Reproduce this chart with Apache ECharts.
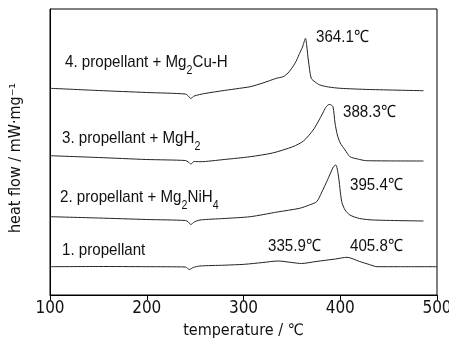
<!DOCTYPE html>
<html>
<head>
<meta charset="utf-8">
<script src="https://cdn.jsdelivr.net/npm/echarts@6/dist/echarts.min.js"></script>
<style>
  html, body { margin: 0; padding: 0; background: #fff; }
  #chart { width: 449px; height: 340px; }
</style>
</head>
<body>
<div id="chart"></div>
<script>
// temperature (°C) and heat flow (arbitrary offset units)
const temp1 = [100, 150, 200, 240, 244, 248, 255, 280, 301, 320, 336, 350, 360, 375, 395, 407, 420, 430, 438, 460, 500]
const flow1 = [28.3, 28.5, 28.3, 28, 25.5, 27.5, 29, 29.8, 30.7, 32.5, 34, 32.5, 31.5, 33.5, 36, 37.7, 33.5, 30.5, 28.3, 28.3, 28.3]

const temp2 = [100, 150, 200, 240, 243, 245.5, 249, 255, 280, 307, 335, 358, 368, 375.6, 381, 386, 390, 393, 395.4, 398, 401.5, 405, 410, 420, 434, 486]
const flow2 = [78.3, 77, 75.5, 74.5, 73, 70.5, 73, 75, 76.5, 78.3, 83, 86.7, 90, 93.3, 103, 113.3, 122, 128.3, 130, 120, 93.3, 85, 80, 76.5, 75, 74]

const temp3 = [100, 150, 200, 240, 243, 245.5, 249, 255, 280, 307, 330, 351, 362, 372, 377, 382, 385, 388.3, 390, 392.5, 394.6, 397, 400, 405, 410, 418, 427, 486]
const flow3 = [139.3, 137.5, 135.5, 134.5, 133, 131, 133.5, 133.3, 135.5, 138.3, 142, 148.3, 154, 165, 173, 182, 187.5, 190.5, 190.3, 188.3, 172, 160, 152, 145, 138.3, 136, 134.3, 134]

const temp4 = [100, 150, 200, 240, 243, 245.5, 249, 260, 280, 296, 307, 320, 334, 341, 346, 351, 355, 358, 361, 364.1, 365.5, 367, 370, 374, 379, 388, 400, 430, 486]
const flow4 = [206.7, 204.5, 202.5, 201, 199, 196.5, 199, 201.5, 204.5, 206.7, 208.3, 212, 216.7, 218.3, 222, 228.3, 235, 241.7, 248, 256.7, 248, 235, 216.7, 213, 210, 208, 206.7, 205.5, 204.3]

const xTicks = [100, 200, 300, 400, 500]

const curves = [
  { name: '1', temp: temp1, flow: flow1 },
  { name: '2', temp: temp2, flow: flow2 },
  { name: '3', temp: temp3, flow: flow3 },
  { name: '4', temp: temp4, flow: flow4 }
]

const axisFont = `'DejaVu Sans Condensed', 'Liberation Sans', sans-serif`
const noteFont = `'Liberation Sans', Arial, sans-serif`
const labelRich = {
  n: { fontSize: 17, lineHeight: 17, verticalAlign: 'top', color: '#111', fontFamily: noteFont },
  s: { fontSize: 12, lineHeight: 23, verticalAlign: 'bottom', color: '#111', fontFamily: noteFont }
}

// annotation text, squeezed horizontally to look like the narrow face of the original
function textEl (x, y, text) {
  return {
    type: 'text',
    x: x,
    y: y,
    scaleX: 0.89,
    style: { text: text, rich: labelRich, font: `17px ${noteFont}`, fill: '#111' }
  }
}

const chart = echarts.init(document.getElementById('chart'))
chart.setOption({
  animation: false,
  grid: {
    left: 50, right: 12, top: 9, bottom: 45,
    outerBoundsMode: 'none',
    show: true, borderColor: '#000', borderWidth: 1
  },
  xAxis: {
    type: 'value',
    min: 100,
    max: 500,
    interval: 100,
    name: 'temperature / ℃',
    nameLocation: 'middle',
    nameGap: 28,
    nameTextStyle: { color: '#111', fontSize: 16, fontFamily: axisFont },
    axisLine: { lineStyle: { color: '#000', width: 1 } },
    axisTick: { inside: false, length: 5, lineStyle: { color: '#000' } },
    axisLabel: { color: '#111', fontSize: 17, fontFamily: axisFont, margin: 5,
      formatter: v => xTicks.includes(v) ? String(v) : '' },
    splitLine: { show: false }
  },
  yAxis: {
    type: 'value',
    min: 0,
    max: 286,
    name: 'heat flow / mW·mg⁻¹',
    nameLocation: 'middle',
    nameGap: 26,
    nameTextStyle: { color: '#111', fontSize: 16, fontFamily: axisFont, padding: [0, 12, 0, 0] },
    axisLine: { show: true, lineStyle: { color: '#000' } },
    axisTick: { show: false },
    axisLabel: { show: false },
    splitLine: { show: false }
  },
  series: curves.map(c => ({
    name: c.name,
    type: 'line',
    smooth: 0.25,
    showSymbol: false,
    lineStyle: { color: '#222', width: 1 },
    data: c.temp.map((t, i) => [t, c.flow[i]])
  })),
  graphic: [
    textEl(65, 54, '{n|4. propellant + Mg}{s|2}{n|Cu-H}'),
    textEl(62, 130, '{n|3. propellant + MgH}{s|2}'),
    textEl(60, 189, '{n|2. propellant + Mg}{s|2}{n|NiH}{s|4}'),
    textEl(62, 242, '{n|1. propellant}'),
    textEl(316, 29, '{n|364.1℃}'),
    textEl(343, 104, '{n|388.3℃}'),
    textEl(350, 177, '{n|395.4℃}'),
    textEl(268, 238, '{n|335.9℃}'),
    textEl(350, 238, '{n|405.8℃}')
  ]
})
</script>
</body>
</html>
